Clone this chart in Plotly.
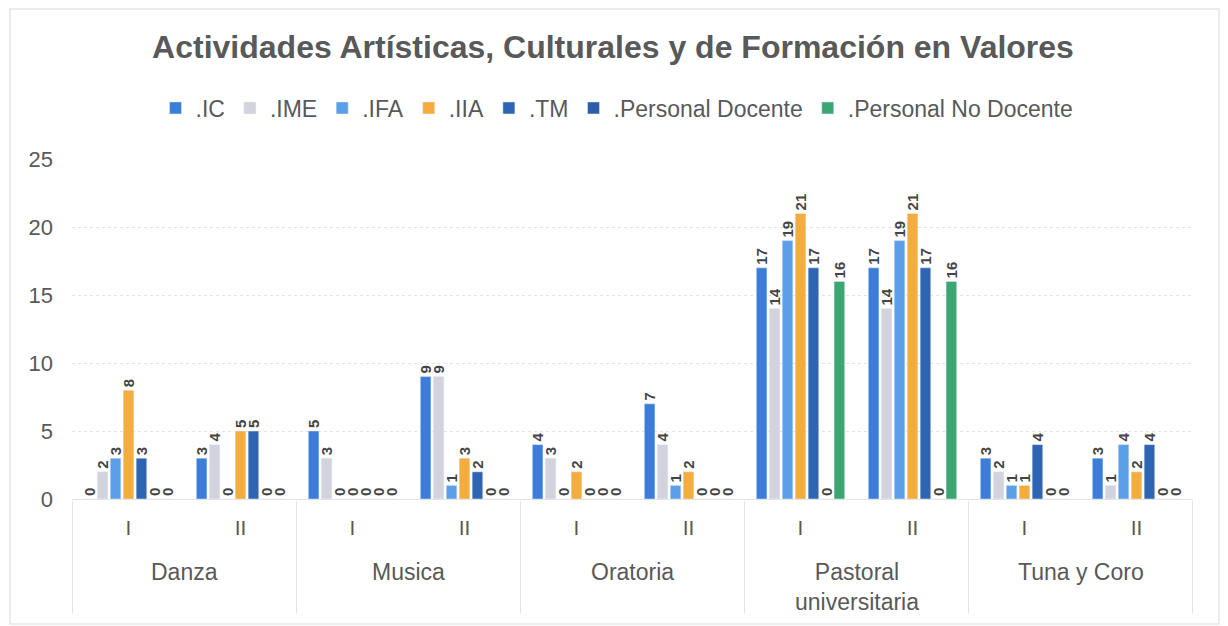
import plotly.graph_objects as go

group_names = ["Danza", "Musica", "Oratoria", "Pastoral<br>universitaria", "Tuna y Coro"]
periods = ["I", "II"]
categories = [f"{g}|{p}" for g in group_names for p in periods]
period_labels = [p for g in group_names for p in periods]

series_names = [".IC", ".IME", ".IFA", ".IIA", ".TM", ".Personal Docente", ".Personal No Docente"]
ic = [0, 3, 5, 9, 4, 7, 17, 17, 3, 3]
ime = [2, 4, 3, 9, 3, 4, 14, 14, 2, 1]
ifa = [3, 0, 0, 1, 0, 1, 19, 19, 1, 4]
iia = [8, 5, 0, 3, 2, 2, 21, 21, 1, 2]
tm = [3, 5, 0, 2, 0, 0, 17, 17, 4, 4]
pd_ = [0, 0, 0, 0, 0, 0, 0, 0, 0, 0]
pnd = [0, 0, 0, 0, 0, 0, 16, 16, 0, 0]
values = [ic, ime, ifa, iia, tm, pd_, pnd]
colors = ["#3b7dd8", "#d3d3dd", "#5b9fe8", "#f4ad3d", "#2f64b4", "#2c5ea8", "#3ba672"]

fig = go.Figure()
for name, vals, col in zip(series_names, values, colors):
    fig.add_trace(go.Bar(
        x=categories, y=vals, name=name, marker_color=col,
        text=vals, texttemplate="<b>%{text}</b>", textposition="outside", textangle=-90,
        textfont=dict(size=15, color="#454545"), cliponaxis=False, constraintext="none",
    ))

# page body has an 8px margin; work in reference pixel coordinates and shift
OFF = 8
FW, FH = 1228 - OFF, 626 - OFF
L, R = 72 - OFF, 1193 - OFF
PT, PB = 159 - OFF, 499 - OFF
H = PB - PT
W = R - L

def py(ref_pix):
    return (PB - (ref_pix - OFF)) / H

def px(ref_pix):
    return ((ref_pix - OFF) - L) / W

annotations = []
shapes = []
for i, g in enumerate(group_names):
    annotations.append(dict(x=2 * i + 0.5, xref="x", y=py(557), yref="paper",
                            yanchor="top", xanchor="center", showarrow=False, text=g,
                            font=dict(size=23, color="#595959")))
for k in range(len(group_names) + 1):
    shapes.append(dict(type="line", xref="x", yref="paper", x0=2 * k - 0.5, x1=2 * k - 0.5,
                       y0=py(501), y1=py(613), line=dict(color="#e3e3e3", width=1)))
shapes.append(dict(type="rect", xref="paper", yref="paper",
                   x0=px(10), x1=px(1219), y0=py(624), y1=py(9),
                   line=dict(color="#e6e6e6", width=1.5)))

fig.update_layout(
    width=FW, height=FH,
    barmode="group", bargap=0.19, bargroupgap=0.18,
    paper_bgcolor="white", plot_bgcolor="white",
    font=dict(family="Liberation Sans, Arial, sans-serif", color="#595959"),
    title=dict(text="<b>Actividades Artísticas, Culturales y de Formación en Valores</b>",
               x=(613 - OFF) / FW, xanchor="center", y=1 - (47 - OFF) / FH, yanchor="middle",
               font=dict(size=32, color="#595959")),
    legend=dict(orientation="h", x=px(617), xanchor="center", y=py(108), yanchor="middle",
                font=dict(size=23, color="#595959"), traceorder="normal"),
    margin=dict(l=L, r=FW - R, t=PT, b=FH - PB, autoexpand=False),
    showlegend=True,
    annotations=annotations,
    shapes=shapes,
)
fig.update_yaxes(range=[0, 25], dtick=5, showgrid=True, gridcolor="#e3e3e3", griddash="dot",
                 zeroline=False, tickfont=dict(size=22, color="#595959"), ticks="",
                 showline=False, automargin=False, ticklabelstandoff=18)
fig.update_xaxes(type="category", tickvals=categories, ticktext=period_labels,
                 tickfont=dict(size=21, color="#595959"), showline=True, linecolor="#e3e3e3",
                 ticks="", ticklabelstandoff=10, automargin=False, showgrid=False)
fig.write_html("out.html")
